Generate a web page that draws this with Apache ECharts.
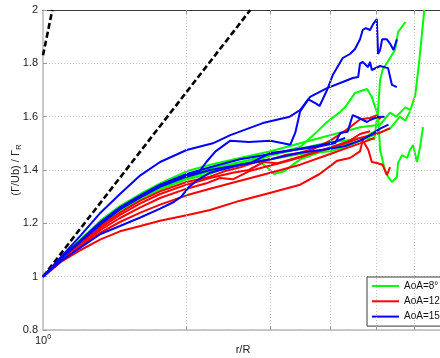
<!DOCTYPE html>
<html>
<head>
<meta charset="utf-8">
<script src="https://cdn.jsdelivr.net/npm/echarts@6/dist/echarts.min.js"></script>
<style>
  html, body { margin: 0; padding: 0; background: #ffffff; }
  #chart { width: 440px; height: 358px; }
</style>
</head>
<body>
<div id="chart"></div>
<script>
// Circulation ratio (Γ/Ub)/Γ_R against radius r/R, log radius axis.

const LABEL_8 = 'AoA=8°';
const LABEL_12 = 'AoA=12°';
const LABEL_15 = 'AoA=15°';

const yTicks = [0.8, 1, 1.2, 1.4, 1.6, 1.8, 2];
const rGrid = [2, 3, 4, 5, 6, 7, 8, 9];

// Reference trends (black dashed)
const refLog = [[1, 1], [2.72, 2.0]];
const refSteep = [[1, 1.83], [1.046, 2.0]];

// AoA = 8 deg
const g8a = [[1,1],[1.09,1.07],[1.2,1.14],[1.32,1.21],[1.45,1.265],[1.6,1.31],[1.76,1.35],[2.0,1.395],[2.24,1.42],[2.59,1.445],[3.0,1.47],[3.46,1.5],[4.0,1.53],[4.3,1.545],[4.62,1.56],[5.09,1.57],[5.34,1.615],[5.5,1.6],[5.75,1.635],[5.89,1.625],[6.03,1.68],[6.15,1.81],[6.3,2.0]];
const g8b = [[1,1],[1.09,1.068],[1.2,1.135],[1.32,1.2],[1.45,1.255],[1.6,1.3],[1.76,1.34],[2.0,1.38],[2.24,1.405],[2.59,1.43],[3.0,1.455],[3.46,1.48],[4.0,1.505],[4.3,1.51],[4.62,1.52],[4.95,1.515],[5.04,1.625],[5.09,1.737],[5.15,1.775],[5.34,1.82],[5.47,1.85],[5.55,1.917],[5.75,1.955]];
const g8c = [[1,1],[1.09,1.066],[1.2,1.13],[1.32,1.195],[1.45,1.25],[1.6,1.295],[1.76,1.335],[2.0,1.375],[2.24,1.4],[2.59,1.42],[2.72,1.43],[3.12,1.464],[3.46,1.486],[3.75,1.543],[3.94,1.58],[4.2,1.618],[4.3,1.636],[4.51,1.689],[4.78,1.704],[4.89,1.674],[4.97,1.636],[5.04,1.606],[5.09,1.475],[5.21,1.4],[5.29,1.374],[5.39,1.355],[5.52,1.374],[5.55,1.426],[5.66,1.456],[5.8,1.445],[5.88,1.475],[5.97,1.494],[6.08,1.43],[6.11,1.426],[6.17,1.483],[6.26,1.561]];
const g8d = [[1,1],[1.09,1.067],[1.2,1.133],[1.32,1.198],[1.45,1.25],[1.6,1.295],[1.76,1.333],[2.0,1.37],[2.24,1.395],[2.59,1.42],[2.85,1.43],[2.95,1.41],[3.05,1.385],[3.2,1.395],[3.46,1.44],[4.0,1.48],[4.3,1.495],[4.62,1.51],[5.09,1.54],[5.34,1.555],[5.6,1.6],[5.75,1.585],[5.88,1.62]];
const g8e = [[1,1],[1.09,1.066],[1.2,1.132],[1.32,1.195],[1.45,1.245],[1.6,1.29],[1.76,1.327],[2.0,1.365],[2.24,1.385],[2.4,1.41],[2.59,1.425],[3.0,1.44],[3.46,1.46],[4.0,1.47],[4.3,1.485],[4.62,1.51],[4.85,1.535],[5.04,1.55]];

// AoA = 12 deg
const r12a = [[1,1],[1.09,1.055],[1.2,1.1],[1.32,1.14],[1.45,1.17],[1.6,1.19],[1.76,1.21],[2.0,1.23],[2.24,1.25],[2.59,1.285],[3.0,1.315],[3.46,1.345],[3.8,1.385],[4.14,1.435],[4.4,1.445],[4.62,1.47],[4.68,1.512],[4.81,1.475],[4.89,1.43],[5.01,1.426],[5.15,1.42],[5.26,1.381],[5.34,1.411]];
const r12b = [[1,1],[1.09,1.066],[1.2,1.128],[1.32,1.19],[1.45,1.24],[1.6,1.285],[1.76,1.32],[2.0,1.355],[2.24,1.375],[2.4,1.395],[2.59,1.41],[2.8,1.43],[3.0,1.44],[3.2,1.455],[3.46,1.465],[3.7,1.48],[4.0,1.51],[4.2,1.535],[4.4,1.56],[4.62,1.59],[4.85,1.595],[5.0,1.605],[5.1,1.59]];
const r12c = [[1,1],[1.09,1.064],[1.2,1.125],[1.32,1.183],[1.45,1.232],[1.6,1.275],[1.76,1.31],[2.0,1.345],[2.24,1.37],[2.5,1.39],[2.7,1.4],[2.9,1.43],[3.1,1.425],[3.46,1.45],[4.0,1.485],[4.3,1.5],[4.62,1.52],[5.09,1.54],[5.34,1.557]];
const r12d = [[1,1],[1.09,1.062],[1.2,1.12],[1.32,1.175],[1.45,1.22],[1.6,1.26],[1.76,1.295],[2.0,1.33],[2.2,1.35],[2.35,1.37],[2.5,1.365],[2.7,1.395],[2.9,1.41],[3.2,1.43],[3.5,1.45],[3.8,1.47],[4.1,1.49],[4.4,1.51],[4.62,1.535],[4.85,1.545]];
const r12e = [[1,1],[1.09,1.06],[1.2,1.115],[1.32,1.165],[1.45,1.205],[1.6,1.24],[1.76,1.27],[2.0,1.305],[2.24,1.33],[2.59,1.36],[3.0,1.39],[3.46,1.42],[4.0,1.46],[4.3,1.48],[4.62,1.5],[4.95,1.52]];

// AoA = 15 deg
const b15a = [[1,1],[1.09,1.073],[1.2,1.155],[1.32,1.24],[1.45,1.31],[1.6,1.38],[1.76,1.43],[2.0,1.475],[2.27,1.5],[2.47,1.531],[2.89,1.576],[3.29,1.6],[3.46,1.625],[3.63,1.674],[3.94,1.707],[4.25,1.73],[4.46,1.745],[4.58,1.749],[4.62,1.8],[4.68,1.805],[4.8,1.786],[4.85,1.805],[4.89,1.775],[5.09,1.79],[5.29,1.782],[5.39,1.719],[5.52,1.711]];
const b15b = [[1,1],[1.09,1.068],[1.2,1.135],[1.32,1.2],[1.45,1.255],[1.6,1.3],[1.76,1.34],[2.0,1.38],[2.12,1.39],[2.2,1.43],[2.3,1.47],[2.47,1.51],[2.7,1.505],[3.0,1.51],[3.3,1.495],[3.38,1.54],[3.46,1.62],[3.6,1.665],[3.73,1.65],[3.8,1.64],[3.94,1.7],[4.05,1.756],[4.25,1.82],[4.4,1.835],[4.51,1.854],[4.62,1.89],[4.68,1.925],[4.75,1.932],[4.85,1.925],[4.92,1.947],[5.01,1.966],[5.04,1.835],[5.09,1.85],[5.14,1.89],[5.26,1.89],[5.34,1.874],[5.43,1.85],[5.47,1.843],[5.52,1.89]];
const b15c = [[1,1],[1.09,1.067],[1.2,1.132],[1.32,1.197],[1.45,1.252],[1.6,1.297],[1.76,1.337],[2.0,1.375],[2.24,1.4],[2.72,1.426],[3.0,1.464],[3.34,1.475],[3.75,1.486],[4.1,1.501],[4.2,1.539],[4.35,1.543],[4.46,1.606],[4.6,1.595],[4.78,1.58],[4.85,1.5875],[5.04,1.599],[5.2,1.6]];
const b15d = [[1,1],[1.09,1.058],[1.2,1.11],[1.32,1.16],[1.45,1.19],[1.6,1.222],[1.76,1.255],[1.88,1.28],[1.95,1.3],[2.02,1.335],[2.1,1.36],[2.24,1.39],[2.6,1.42],[3.0,1.44],[3.46,1.465],[4.0,1.48],[4.3,1.49],[4.62,1.51],[4.85,1.53],[5.09,1.555],[5.3,1.57]];
const b15e = [[1,1],[1.09,1.069],[1.2,1.138],[1.32,1.205],[1.45,1.26],[1.6,1.305],[1.76,1.345],[2.0,1.385],[2.24,1.41],[2.59,1.44],[3.0,1.46],[3.46,1.48],[4.0,1.5],[4.3,1.52]];

const GREEN = '#00ff00';
const RED = '#ff0000';
const BLUE = '#0000ff';
const FONT = '"Liberation Sans", Arial, Helvetica, sans-serif';

function curve(name, color, data) {
  return {
    type: 'line', name: name, data: data,
    symbol: 'none', smooth: false,
    lineStyle: { color: color, width: 2 },
    itemStyle: { color: color },
    emphasis: { disabled: true },
    z: 3
  };
}

const gridDot = { color: '#c4c4c4', width: 1, type: [1, 2] };

// vertical grid lines and inward ticks at 2..9 on the log axis
const helper = {
  type: 'line', data: [], silent: true, z: 1,
  markLine: {
    silent: true, symbol: 'none', animation: false,
    label: { show: false },
    lineStyle: gridDot,
    data: rGrid.map(function (r) { return { xAxis: r }; })
      .concat(rGrid.map(function (r) {
        return [{ coord: [r, 0.8], lineStyle: { type: 'solid', color: '#9a9a9a', width: 1 } },
                { coord: [r, 0.815] }];
      }))
      .concat(rGrid.map(function (r) {
        return [{ coord: [r, 2.0], lineStyle: { type: 'solid', color: '#9a9a9a', width: 1 } },
                { coord: [r, 1.985] }];
      }))
  }
};

const series = [helper,
  { type: 'line', data: refLog, symbol: 'none', silent: true, z: 2,
    lineStyle: { color: '#000', width: 2.6, type: [6, 3] } },
  { type: 'line', data: refSteep, symbol: 'none', silent: true, z: 2,
    lineStyle: { color: '#000', width: 2.6, type: [6, 3] } },
  curve(LABEL_8, GREEN, g8a), curve(LABEL_8, GREEN, g8b), curve(LABEL_8, GREEN, g8c),
  curve(LABEL_8, GREEN, g8d), curve(LABEL_8, GREEN, g8e),
  curve(LABEL_12, RED, r12a), curve(LABEL_12, RED, r12b), curve(LABEL_12, RED, r12c),
  curve(LABEL_12, RED, r12d), curve(LABEL_12, RED, r12e),
  curve(LABEL_15, BLUE, b15a), curve(LABEL_15, BLUE, b15b), curve(LABEL_15, BLUE, b15c),
  curve(LABEL_15, BLUE, b15d), curve(LABEL_15, BLUE, b15e)
];

const chart = echarts.init(document.getElementById('chart'), null, { renderer: 'canvas' });
chart.setOption({
  animation: false,
  backgroundColor: '#ffffff',
  textStyle: { fontFamily: FONT },
  grid: { left: 43, top: 10, width: 477, height: 320, containLabel: false, outerBoundsMode: 'none' },
  xAxis: [{
    type: 'log', logBase: 10, min: 1, max: 10, position: 'bottom',
    axisLine: { show: true, lineStyle: { color: '#b8b8b8', width: 1.5 } },
    axisTick: { show: false },
    splitLine: { show: false },
    axisLabel: {
      margin: 4, color: '#222', fontFamily: FONT,
      formatter: function (v) { return v === 1 ? '{b|10}{s|0}' : ''; },
      rich: {
        b: { fontSize: 11, fontFamily: FONT, color: '#222', lineHeight: 14 },
        s: { fontSize: 7, fontFamily: FONT, color: '#222', verticalAlign: 'top', lineHeight: 8 }
      }
    }
  }, {
    type: 'log', logBase: 10, min: 1, max: 10, position: 'top',
    axisLine: { show: true, lineStyle: { color: '#3a3a3a', width: 1 } },
    axisTick: { show: false }, axisLabel: { show: false }, splitLine: { show: false }
  }],
  yAxis: {
    type: 'value', min: 0.8, max: 2, interval: 0.2,
    axisLine: { show: true, lineStyle: { color: '#b8b8b8', width: 1.5 } },
    axisTick: { show: true, inside: true, length: 4, lineStyle: { color: '#9a9a9a' } },
    splitLine: { show: true, lineStyle: gridDot },
    axisLabel: {
      margin: 5, fontSize: 11, color: '#222', fontFamily: FONT,
      customValues: yTicks
    }
  },
  legend: {
    orient: 'vertical', left: 367, top: 277,
    data: [LABEL_8, LABEL_12, LABEL_15],
    icon: 'rect',
    itemWidth: 27, itemHeight: 2, itemGap: 4.3,
    padding: [3.5, 14, 4, 5],
    backgroundColor: '#ffffff', borderColor: '#3a3a3a', borderWidth: 1, borderRadius: 0,
    textStyle: { fontSize: 10, lineHeight: 11, color: '#111', fontFamily: FONT },
    selectedMode: false
  },
  graphic: [
    { type: 'text', x: 243, y: 350, silent: true,
      style: { text: 'r/R', font: '11px ' + FONT, fill: '#222', align: 'center', verticalAlign: 'middle' } },
    { type: 'text', x: 16, y: 170, rotation: Math.PI / 2, silent: true,
      style: {
        text: '{a|(Γ/Ub) / Γ}{s|R}', align: 'center', verticalAlign: 'middle', fill: '#222',
        rich: {
          a: { fontSize: 11, fontFamily: FONT, fill: '#222', lineHeight: 14 },
          s: { fontSize: 8, fontFamily: FONT, fill: '#222', verticalAlign: 'bottom', lineHeight: 14 }
        }
      } }
  ],
  series: series
});
</script>
</body>
</html>
